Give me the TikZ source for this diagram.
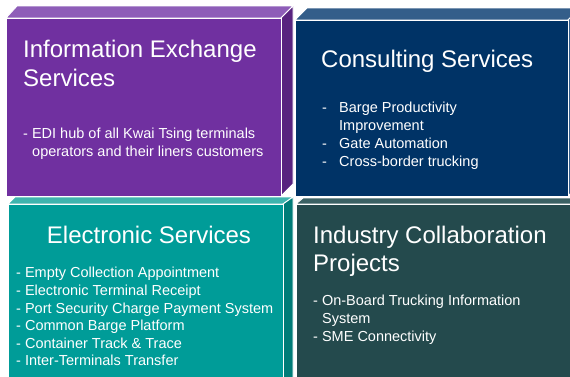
\documentclass[tikz,border=0pt]{standalone}
\usepackage{fontspec}
\setmainfont{Liberation Sans}

\definecolor{purfront}{HTML}{7030A0}
\definecolor{purtop}{HTML}{8E5DB8}
\definecolor{purside}{HTML}{58237F}
\definecolor{blufront}{HTML}{003366}
\definecolor{blutop}{HTML}{345E8A}
\definecolor{tealfront}{HTML}{009C98}
\definecolor{tealtop}{HTML}{3FB4AE}
\definecolor{tealside}{HTML}{007C78}
\definecolor{darkfront}{HTML}{244A4D}
\definecolor{darktop}{HTML}{3B6164}

\tikzset{
  face/.style={fill=#1, draw=white, line width=0.9pt},
  title/.style={anchor=base west, inner sep=0pt, text=white, font=\fontsize{24}{29}\selectfont},
  item/.style={anchor=base west, inner sep=0pt, text=white, font=\fontsize{14.5}{17.5}\selectfont},
}

\begin{document}
\begin{tikzpicture}[x=1pt, y=-1pt]
        \useasboundingbox (0,0) rectangle (570,376);
        \clip (0,0) rectangle (570,376);

        % Industry box (bottom right)
        \filldraw[face=darktop] (296,204) -- (303,198) -- (580,198) -- (580,204) -- cycle;
        \filldraw[face=darkfront] (296,204) rectangle (580,390);

        % Consulting box (top right)
        \filldraw[face=blutop] (295,20) -- (307,8) -- (580,8) -- (568,20) -- cycle;
        \filldraw[face=blutop] (568,20) -- (580,8) -- (580,184) -- (568,196) -- cycle;
        \filldraw[face=blufront] (295,20) rectangle (568,196);

        % Electronic box (bottom left)
        \filldraw[face=tealtop] (8,204) -- (15,197) -- (293,197) -- (283,204) -- cycle;
        \filldraw[face=tealside] (283,204) -- (293,197) -- (293,390) -- (283,390) -- cycle;
        \filldraw[face=tealfront] (8,204) rectangle (283,390);

        % Information box (top left)
        \filldraw[face=purtop] (6,18) -- (17,6) -- (293,6) -- (281,18) -- cycle;
        \filldraw[face=purside] (281,18) -- (293,6) -- (293,184) -- (281,196) -- cycle;
        \filldraw[face=purfront] (6,18) rectangle (281,196);

        % Information Exchange Services
        \node[title] (infoA) at (23,57) {Information Exchange};
        \node[title] (infoB) at (23,86) {Services};
        \node[item] (infoC) at (23,138) {- EDI hub of all Kwai Tsing terminals};
        \node[item] (infoD) at (32,156) {operators and their liners customers};

        % Consulting Services
        \node[title] (consA) at (321,67) {Consulting Services};
        \node[item] (consB) at (322,112) {-};
        \node[item] (consC) at (339,112) {Barge Productivity};
        \node[item] (consD) at (339,130) {Improvement};
        \node[item] (consE) at (322,148) {-};
        \node[item] (consF) at (339,148) {Gate Automation};
        \node[item] (consG) at (322,166) {-};
        \node[item] (consH) at (339,166) {Cross-border trucking};

        % Electronic Services
        \node[title, anchor=base] (elecA) at (149,243) {Electronic Services};
        \node[item] (elecB) at (16,277) {- Empty Collection Appointment};
        \node[item] (elecC) at (16,295) {- Electronic Terminal Receipt};
        \node[item] (elecD) at (16,313) {- Port Security Charge Payment System};
        \node[item] (elecE) at (16,330) {- Common Barge Platform};
        \node[item] (elecF) at (16,348) {- Container Track \& Trace};
        \node[item] (elecG) at (16,365) {- Inter-Terminals Transfer};

        % Industry Collaboration Projects
        \node[title] (indA) at (313,243) {Industry Collaboration};
        \node[title] (indB) at (313,271) {Projects};
        \node[item] (indC) at (313,305) {- On-Board Trucking Information};
        \node[item] (indD) at (322,323) {System};
        \node[item] (indE) at (313,341) {- SME Connectivity};
\end{tikzpicture}
\end{document}
